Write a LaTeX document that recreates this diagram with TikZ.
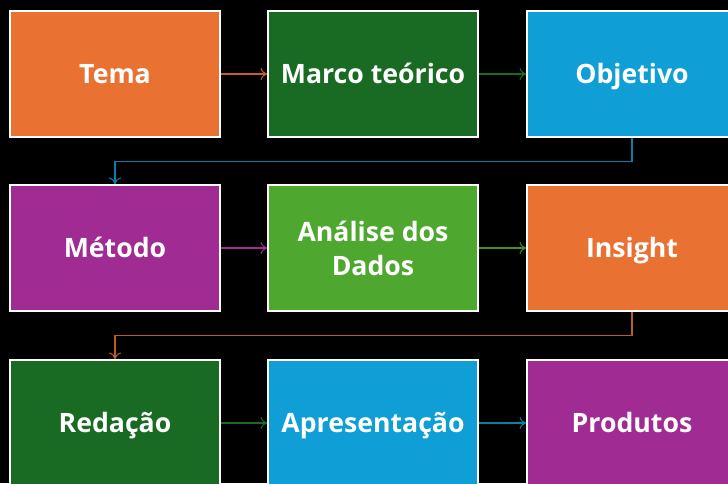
\documentclass[tikz,border=0pt]{standalone}
\usepackage{fontspec}
\setmainfont{Open Sans}
\usetikzlibrary{arrows.meta}
\definecolor{corlaranja}{HTML}{E97132}
\definecolor{corverde}{HTML}{196B24}
\definecolor{corazul}{HTML}{0F9ED5}
\definecolor{corroxo}{HTML}{A02B93}
\definecolor{corverdeclaro}{HTML}{4EA72E}
\tikzset{
    etapa/.style={draw=white, line width=1.2pt, minimum width=157.5pt, minimum height=94.5pt,
        inner sep=0pt, text=white, font=\fontsize{20}{25}\selectfont\bfseries, align=center,
        text height=15.5pt, text depth=2pt},
    seta/.style={line width=0.8pt, -{To[length=5pt, width=9pt]}}
}
\begin{document}
\begin{tikzpicture}[x=0.75pt, y=-0.75pt]
    \fill[black] (0,0) rectangle (728,483);
    \useasboundingbox (0,0) rectangle (728,483);
    % primeira linha
    \node[etapa, fill=corlaranja] (tema) at (115,74) {Tema};
    \node[etapa, fill=corverde] (marco) at (373,74) {Marco teórico};
    \node[etapa, fill=corazul] (objetivo) at (632,74) {Objetivo};
    % segunda linha
    \node[etapa, fill=corroxo] (metodo) at (115,248) {Método};
    \node[etapa, fill=corverdeclaro, text height=42.5pt] (analise) at (373,248) {Análise dos\\Dados};
    \node[etapa, fill=corlaranja] (insight) at (632,248) {Insight};
    % terceira linha
    \node[etapa, fill=corverde] (redacao) at (115,423) {Redação};
    \node[etapa, fill=corazul] (apresentacao) at (373,423) {Apresentação};
    \node[etapa, fill=corroxo] (produtos) at (632,423) {Produtos};
    % setas
    \draw[seta, corlaranja!85!black] (tema) -- (marco);
    \draw[seta, corverde] (marco) -- (objetivo);
    \draw[seta, corazul!80!black] (objetivo.south) -- ++(0,24) -| (metodo.north);
    \draw[seta, corroxo] (metodo) -- (analise);
    \draw[seta, corverdeclaro!85!black] (analise) -- (insight);
    \draw[seta, corlaranja!80!black] (insight.south) -- ++(0,24) -| (redacao.north);
    \draw[seta, corverde] (redacao) -- (apresentacao);
    \draw[seta, corazul!80!black] (apresentacao) -- (produtos);
\end{tikzpicture}
\end{document}
